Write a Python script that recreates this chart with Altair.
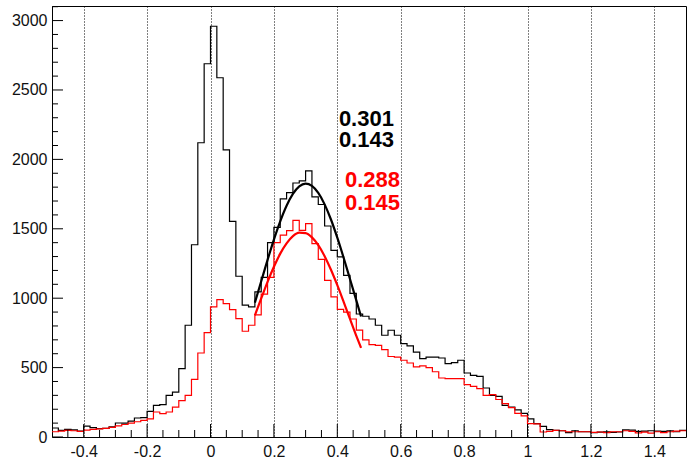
import altair as alt
import pandas as pd

# ---------------- data ----------------
x_min, x_max = -0.5, 1.5
bin_width = 0.02

black_counts = [65, 48, 55, 52, 43, 79, 67, 60, 62, 74,
                101, 100, 115, 137, 140, 185, 228, 233, 300, 324,
                492, 805, 1385, 2120, 2689, 2959, 2588, 2069, 1554, 1158,
                950, 937, 1045, 1150, 1400, 1510, 1715, 1760, 1830, 1845,
                1917, 1730, 1675, 1520, 1345, 1297, 1165, 1035, 886, 870,
                850, 805, 733, 769, 733, 673, 656, 612, 565, 576,
                576, 569, 529, 536, 553, 461, 444, 437, 353, 300,
                293, 228, 216, 195, 170, 130, 96, 77, 53, 48,
                45, 31, 45, 38, 38, 31, 35, 38, 33, 36,
                52, 50, 41, 42, 45, 43, 40, 44, 38, 48]

red_counts = [38, 42, 48, 45, 40, 50, 55, 58, 62, 70,
              80, 90, 100, 110, 120, 130, 180, 168, 180, 215,
              262, 300, 415, 605, 752, 937, 990, 961, 918, 853,
              762, 805, 880, 1030, 1150, 1400, 1455, 1487, 1561, 1489,
              1537, 1393, 1280, 1129, 1009, 920, 900, 850, 770, 700,
              665, 660, 630, 580, 575, 553, 533, 505, 512, 500,
              470, 425, 420, 420, 420, 377, 365, 349, 300, 305,
              270, 240, 212, 170, 152, 96, 94, 36, 41, 48,
              45, 38, 38, 38, 38, 34, 36, 31, 38, 38,
              45, 40, 30, 35, 28, 38, 32, 38, 42, 45]

fit_x = [0.14, 0.16, 0.18, 0.20, 0.22, 0.24, 0.26, 0.28, 0.30, 0.32,
         0.34, 0.36, 0.38, 0.40, 0.42, 0.44, 0.46, 0.475]
black_fit = [968, 1122, 1276, 1422, 1554, 1666, 1751, 1805, 1825, 1809,
             1758, 1676, 1567, 1436, 1291, 1138, 984, 868]
red_fit = [876, 998, 1117, 1226, 1321, 1395, 1447, 1472, 1469, 1438,
           1382, 1303, 1205, 1094, 974, 851, 729, 642]

label_text = ["0.301", "0.143", "0.288", "0.145"]
label_x = [0.405, 0.405, 0.424, 0.424]
label_y = [2239, 2089, 1801, 1633]
label_color = ["black", "black", "#ff0000", "#ff0000"]

x_major = [-0.4, -0.2, 0.0, 0.2, 0.4, 0.6, 0.8, 1.0, 1.2, 1.4]
y_major = [0, 500, 1000, 1500, 2000, 2500, 3000]
y_top = 3105

# ---------------- tables ----------------
edges = [round(x_min + bin_width * i, 4) for i in range(len(black_counts) + 1)]
black_df = pd.DataFrame({"x": edges, "y": black_counts + [black_counts[-1]]})
red_df = pd.DataFrame({"x": edges, "y": red_counts + [red_counts[-1]]})
bfit_df = pd.DataFrame({"x": fit_x, "y": black_fit})
rfit_df = pd.DataFrame({"x": fit_x, "y": red_fit})
text_df = pd.DataFrame({"x": label_x, "y": label_y, "t": label_text, "c": label_color})

x_minor = [round(-0.45 + 0.05 * k, 3) for k in range(39)]
x_minor = [v for v in x_minor if all(abs(v - m) > 1e-6 for m in x_major)]
y_minor = [v for v in range(100, 3101, 100) if v % 500 != 0]

W, H = 634, 431
FONT = "Liberation Sans"

xs = alt.Scale(domain=[x_min, x_max], nice=False, zero=False)
ys = alt.Scale(domain=[0, y_top], nice=False, zero=False)

x_axis = alt.Axis(values=x_major, tickSize=0, domain=False, grid=True,
                  gridDash=[1, 2], gridColor="black", gridOpacity=1, gridWidth=1,
                  labelExpr="datum.value < 0 ? '-' + format(abs(datum.value), '.1~f') : format(datum.value, '.1~f')",
                  labelFont=FONT, labelFontSize=16, labelColor="#111111",
                  labelPadding=6, title=None)
y_axis = alt.Axis(values=y_major, tickSize=0, domain=False, grid=False,
                  format="d", labelFont=FONT, labelFontSize=16, labelColor="#111111",
                  labelPadding=5, title=None)

X = alt.X("x:Q", scale=xs, axis=x_axis)
Y = alt.Y("y:Q", scale=ys, axis=y_axis)

black_hist = alt.Chart(black_df).mark_line(
    interpolate="step-after", color="black", strokeWidth=1.2, clip=True
).encode(x=X, y=Y)

red_hist = alt.Chart(red_df).mark_line(
    interpolate="step-after", color="#ff0000", strokeWidth=1.2, clip=True
).encode(x=X, y=Y)

black_line = alt.Chart(bfit_df).mark_line(
    interpolate="monotone", color="black", strokeWidth=2.2
).encode(x=X, y=Y)

red_line = alt.Chart(rfit_df).mark_line(
    interpolate="monotone", color="#ff0000", strokeWidth=2.2
).encode(x=X, y=Y)

texts = alt.Chart(text_df).mark_text(
    align="left", baseline="alphabetic", font=FONT, fontSize=22, fontWeight="bold"
).encode(x=X, y=Y, text="t:N", color=alt.Color("c:N", scale=None))

xmaj_ticks = alt.Chart(pd.DataFrame({"x": x_major})).mark_rule(color="black", strokeWidth=1).encode(
    x=X, y=alt.value(H), y2=alt.value(H - 13))
xmin_ticks = alt.Chart(pd.DataFrame({"x": x_minor})).mark_rule(color="black", strokeWidth=1).encode(
    x=X, y=alt.value(H), y2=alt.value(H - 7))
ymaj_ticks = alt.Chart(pd.DataFrame({"y": y_major})).mark_rule(color="black", strokeWidth=1).encode(
    y=Y, x=alt.value(0), x2=alt.value(11))
ymin_ticks = alt.Chart(pd.DataFrame({"y": y_minor})).mark_rule(color="black", strokeWidth=1).encode(
    y=Y, x=alt.value(0), x2=alt.value(6))

chart = alt.layer(
    black_hist, red_hist, black_line, red_line, texts,
    xmaj_ticks, xmin_ticks, ymaj_ticks, ymin_ticks
).properties(
    width=W, height=H,
    autosize=alt.AutoSizeParams(type="none"),
    padding={"left": 52, "top": 6, "right": 1, "bottom": 23},
    background="white",
).configure_view(stroke="black", strokeWidth=1)

chart.save("out.html", embed_options={"renderer": "svg", "actions": False})
